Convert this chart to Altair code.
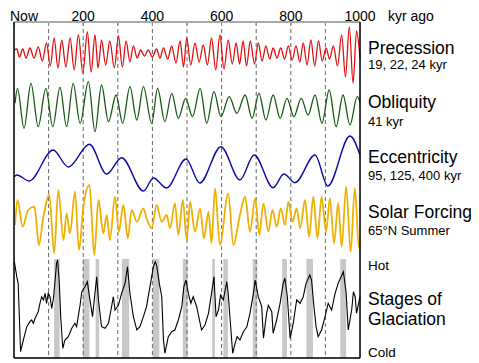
import altair as alt
import pandas as pd

# ---------------- data ----------------
# x: thousands of years ago; values: relative amplitude (positive = up)
PREC_KYR = [1, 8, 16, 25, 35, 46, 58, 70, 82, 94, 105, 116, 127, 138, 150, 162, 174, 186, 199, 212,
            223, 234, 243, 253, 265, 277, 290, 302, 313, 324, 335, 345, 356, 366, 377, 388, 400, 412, 422, 432,
            444, 456, 468, 480, 490, 499, 511, 523, 535, 547, 559, 571, 583, 595, 607, 619, 631, 642, 652, 662,
            672, 683, 695, 706, 717, 728, 739, 749, 760, 771, 782, 793, 804, 815, 826, 836, 847, 858, 869, 880,
            891, 902, 912, 923, 935, 947, 958, 969, 980, 990, 1000]
PREC_VAL = [3, 4, -4, 4, -5, 5, -5, 6, -8, 10, -13, 15, -15, 13, -14, 15, -17, 18, -20, 21,
            -19, 18, -15, 13, -12, 12, -15, 17, -14, 12, -9, 7, -5, 3, -3, 3, -4, 4, -5, 5,
            -6, 7, -10, 12, -14, 15, -12, 10, -9, 8, -12, 15, -17, 18, -16, 13, -11, 10, -11, 12,
            -13, 12, -11, 10, -8, 7, -6, 5, -5, 5, -6, 7, -7, 7, -9, 10, -12, 13, -13, 12,
            -8, 5, -6, 7, -13, 18, -24, 26, -30, 22, -5]

OBL_KYR = [3, 10, 29, 49, 70, 92, 112, 133, 152, 171, 191, 215, 234, 253, 273, 295, 314, 335, 355, 374,
           398, 415, 436, 456, 475, 496, 516, 538, 557, 578, 598, 622, 644, 668, 688, 708, 728, 749, 769, 789,
           809, 830, 850, 870, 890, 911, 931, 951, 971, 992, 1000]
OBL_VAL = [3.7, 18.7, -21.3, 23.7, -19.7, 18.7, -19.7, 19.7, -19.7, 23.7, -16.3, 25.3, -24.7, 22, -14.7, 12, -16.3, 20.3, -13, 20.3,
           -16.3, 18.7, -14.7, 13.7, -11.3, 8.7, -9.7, 18.7, -16.3, 15.3, -9.7, 10.3, -6.3, 12, -11.3, 13.7, -13, 12, -11.3, 8.7,
           -9.7, 8.7, -8, 12, -16.3, 17, -19.7, 12, -18, 10.3, 5]

ECC_KYR = [1, 8, 44, 113, 157, 218, 268, 311, 374, 403, 441, 497, 537, 598, 653, 694, 749, 780, 812, 870, 907, 971, 1000]
ECC_VAL = [14.3, 16, 10, 41, 24, 46.7, 17, 33.3, 0, 13, 3, 32, 8, 44.3, 11, 36, 3.3, 17, 8.3, 36, 5, 55, 36]

SOL_KYR = [3, 10, 25, 41, 59, 72, 85, 102, 116, 128, 143, 152, 162, 176, 188, 200, 218, 232, 244, 258,
           268, 277, 292, 303, 316, 329, 340, 355, 374, 383, 398, 412, 427, 441, 451, 465, 475, 488, 499, 509,
           523, 538, 549, 562, 571, 581, 595, 619, 634, 653, 668, 682, 697, 709, 721, 735, 747, 759, 771, 783,
           793, 805, 817, 827, 841, 853, 865, 877, 889, 902, 913, 925, 937, 947, 960, 973, 985, 997, 1000]
SOL_VAL = [-7, 18, -8.7, 8, 11.3, -27, 1.3, 23, -35.3, 28, -22, 4.7, -15.3, 26.3, -32, 9.7, 33, -37, 18, -15.3,
           3, -22, 21.3, -13.7, 13, -20.3, 8, -3.7, 9.7, -0.3, -10.3, 13, -3.7, 3, -10.3, 14.7, -17, 18, -22, 16.3,
           -13.7, 9.7, -20.3, 6.3, -25, 29.7, -27, 24.7, -27, 3, 21.3, -13.7, 19.7, -17, 14.7, -13.7, 8, -8.7, 9.7, -7,
           16.3, -3.7, 9.7, -10.3, 18, -18.7, 21.3, -20.3, 21.3, -13.7, 19.7, -25.3, 14.7, -28.7, 31.3, -33.7, 30, -30, -20]

GLAC_KYR = [1, 8, 12, 19, 27, 37, 46, 51, 56, 61, 70, 75, 80, 85, 90, 94, 99, 104, 109, 114,
            118, 123, 126, 131, 135, 141, 147, 157, 167, 176, 181, 191, 196, 205, 212, 218, 227, 234, 239, 244,
            253, 263, 273, 282, 287, 292, 302, 311, 321, 328, 335, 345, 355, 364, 374, 383, 393, 403, 408, 412,
            420, 427, 432, 436, 446, 456, 465, 475, 485, 491, 497, 504, 511, 518, 528, 538, 542, 552, 562, 571,
            578, 584, 591, 597, 605, 615, 619, 624, 632, 639, 645, 653, 663, 673, 682, 692, 697, 706, 716, 721,
            730, 735, 745, 749, 759, 769, 778, 783, 790, 798, 807, 817, 827, 836, 844, 855, 860, 865, 873, 879,
            889, 899, 908, 918, 928, 937, 952, 960, 966, 976, 981, 986, 990, 1000]
GLAC_VAL = [96.3, 81.3, 74.7, 6.3, 18, 31.3, 36.3, 38, 34.7, 39.7, 46.3, 54.7, 61.3, 58, 64.7, 54.7, 64.7, 61.3, 49.7, 59.7,
            74.7, 94.7, 98, 74.7, 41.3, 9.7, 18, 21.3, 29.7, 34.7, 31.3, 53, 66.3, 71.3, 76.3, 61.3, 41.3, 64.7, 81.3, 58,
            31.3, 29.7, 34.7, 51.3, 61.3, 48, 53, 64.7, 74.7, 91.3, 64.7, 41.3, 28, 31.3, 41.3, 51.3, 71.3, 91.3, 96.3, 93,
            74.7, 61.3, 18, 4.7, 21.3, 26.3, 28, 38, 51.3, 71.3, 78, 64.7, 54.7, 61.3, 51.3, 34.7, 28, 33, 44.7, 64.7,
            81.3, 41.3, 48, 63, 58, 76.3, 64.7, 41.3, 4.7, 14.7, 21.3, 18, 26.3, 31.3, 44.7, 64.7, 78, 61.3, 51.3, 19.7,
            44.7, 52.7, 46.3, 24.7, 38, 54.7, 74.7, 79.7, 61.3, 19.7, 34.7, 58, 54.7, 61.3, 74.7, 83, 78, 58, 31.3, 21.3,
            28, 41.3, 54.7, 48, 64.7, 74.7, 86.3, 64.7, 28, 48, 66.3, 61.3, 44.7, 61.3]

INTERGLACIAL_START = [116, 199, 236, 312, 401, 488, 573, 605, 690, 775, 845, 943]
INTERGLACIAL_END = [132, 218, 246, 333, 420, 502, 581, 618, 703, 789, 864, 960]

TICK_KYR = [0, 100, 200, 300, 400, 500, 600, 700, 800, 900, 1000]
GRID_KYR = [100, 200, 300, 400, 500, 600, 700, 800, 900]
LABEL_KYR = [200, 400, 600, 800, 1000]
LABEL_TEXT = ["200", "400", "600", "800", "1000"]

# ---------------- layout / style ----------------
W, H = 346, 336
FONT = "Liberation Sans"
xs = alt.Scale(domain=[0, 1000], nice=False, zero=False)
X = alt.X("kyr:Q", scale=xs, axis=None)
ONE = alt.Data(values=[{}])


def curve(kyr, val, base, color, width, interp):
    df = pd.DataFrame({"kyr": kyr, "v": val})
    return alt.Chart(df).mark_line(color=color, strokeWidth=width, interpolate=interp).encode(
        x=X,
        y=alt.Y("v:Q", scale=alt.Scale(domain=[base - H, base], nice=False, zero=False), axis=None),
    )


def text(s, x, y, size, align="left"):
    return alt.Chart(ONE).mark_text(text=s, font=FONT, fontSize=size, align=align,
                                    baseline="alphabetic", color="black").encode(
        x=alt.value(x), y=alt.value(y))


bars = alt.Chart(pd.DataFrame({"s": INTERGLACIAL_START, "e": INTERGLACIAL_END})).mark_rect(
    color="#c8c8c8").encode(x=alt.X("s:Q", scale=xs, axis=None), x2="e:Q",
                            y=alt.value(237), y2=alt.value(H))

grid = alt.Chart(pd.DataFrame({"kyr": GRID_KYR})).mark_rule(
    color="#666666", strokeWidth=1, strokeDash=[4, 3]).encode(x=X, y=alt.value(0), y2=alt.value(H))

ticks = alt.Chart(pd.DataFrame({"kyr": TICK_KYR})).mark_rule(
    color="#909090", strokeWidth=1).encode(x=X, y=alt.value(0), y2=alt.value(4))

topline = alt.Chart(ONE).mark_rule(color="#a8a8a8", strokeWidth=2).encode(
    x=alt.value(0), x2=alt.value(W), y=alt.value(0))
left = alt.Chart(ONE).mark_rule(color="black", strokeWidth=1.5).encode(
    x=alt.value(0), y=alt.value(0), y2=alt.value(H))
right = alt.Chart(ONE).mark_rule(color="black", strokeWidth=1.5).encode(
    x=alt.value(W), y=alt.value(0), y2=alt.value(H))
bottom = alt.Chart(ONE).mark_rule(color="black", strokeWidth=1.5).encode(
    x=alt.value(0), x2=alt.value(W), y=alt.value(H))

top_labels = alt.Chart(pd.DataFrame({"kyr": LABEL_KYR, "t": LABEL_TEXT})).mark_text(
    font=FONT, fontSize=14, align="center", baseline="alphabetic", color="black").encode(
    x=X, y=alt.value(-1), text="t:N")

prec = curve(PREC_KYR, PREC_VAL, 31, "#e01010", 1.3, "monotone")
obl = curve(OBL_KYR, OBL_VAL, 85, "#125a12", 1.3, "monotone")
ecc = curve(ECC_KYR, ECC_VAL, 169, "#0a0aa8", 1.4, "monotone")
sol = curve(SOL_KYR, SOL_VAL, 196, "#f0b000", 1.8, "monotone")
glac = curve(GLAC_KYR, GLAC_VAL, H, "black", 1.1, "linear")

labels = [
    text("Now", 10, -1, 14, "center"),
    text("kyr ago", 374, -1, 14),
    text("Precession", 354, 32, 17.5),
    text("19, 22, 24 kyr", 354, 47, 13),
    text("Obliquity", 354, 86, 17.5),
    text("41 kyr", 354, 104, 13),
    text("Eccentricity", 354, 141, 17.5),
    text("95, 125, 400 kyr", 354, 158, 13),
    text("Solar Forcing", 354, 196, 17.5),
    text("65°N Summer", 354, 213, 13),
    text("Hot", 354, 248, 13.5),
    text("Stages of", 354, 283, 17.5),
    text("Glaciation", 354, 303, 17.5),
    text("Cold", 354, 335, 13.5),
]

chart = alt.layer(
    bars, grid, ticks, prec, obl, ecc, sol, glac, topline, left, right, bottom, top_labels, *labels
).resolve_scale(y="independent").properties(
    width=W, height=H,
    autosize=alt.AutoSizeParams(type="none"),
    padding={"left": 6, "top": 14, "right": 111, "bottom": 2},
).configure_view(strokeWidth=0).configure(background="white")

chart.save("out.html", embed_options={"renderer": "svg", "actions": False})
